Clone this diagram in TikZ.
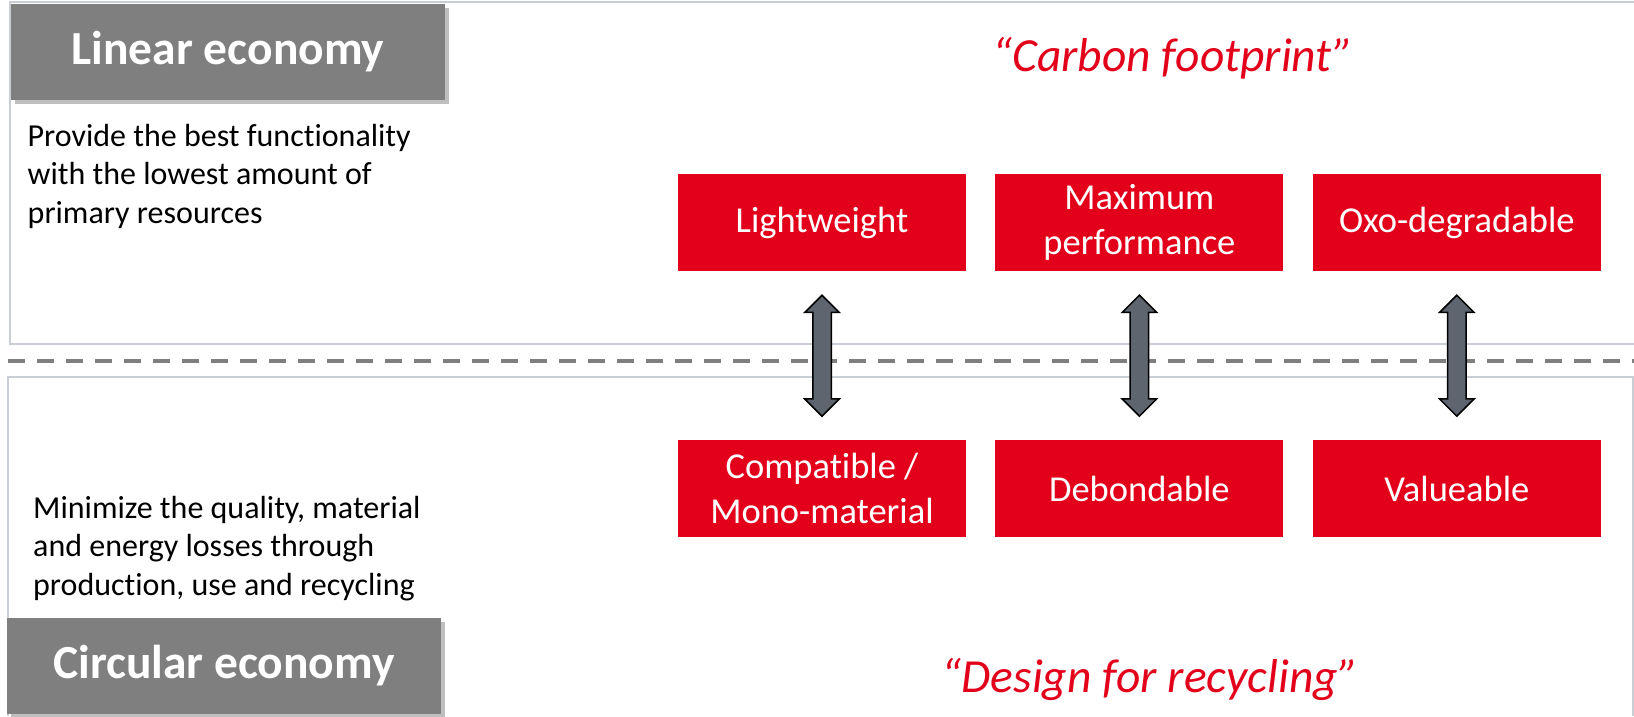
\documentclass[tikz,border=0pt]{standalone}
\usepackage{fontspec}
\setmainfont{Carlito}[Ligatures=NoCommon]
\usetikzlibrary{positioning,shapes.arrows,shadows}
\definecolor{ecored}{RGB}{226,0,26}
\definecolor{headgray}{RGB}{127,127,127}
\definecolor{panelline}{RGB}{201,206,212}
\definecolor{arrowgray}{RGB}{94,101,111}
\tikzset{panel/.style={draw=panelline,line width=2pt},
         split line/.style={draw=headgray,line width=4pt,dash pattern=on 17pt off 12pt},
         head box/.style={rectangle,fill=headgray,text=white,minimum width=434pt,minimum height=96pt,inner sep=0pt,
                          font=\fontsize{47.5}{56}\selectfont\bfseries,
                          drop shadow={shadow xshift=4pt,shadow yshift=-4pt,opacity=.25,fill=black}},
         red box/.style={rectangle,fill=ecored,text=white,minimum width=288pt,minimum height=97pt,inner sep=0pt,
                          align=center,font=\fontsize{36.5}{45}\selectfont},
         goal text/.style={anchor=north west,inner sep=0pt,align=left,font=\fontsize{32}{38.5}\selectfont},
         motto/.style={anchor=base,text=ecored,inner sep=0pt,font=\fontsize{47.5}{56}\selectfont\itshape},
         updown/.style={double arrow,shape border rotate=90,draw=black,line width=1.5pt,fill=arrowgray,
                        minimum width=33pt,minimum height=121pt,double arrow head extend=8pt,inner sep=8.5pt},
}
\begin{document}
\begin{tikzpicture}[x=1pt,y=-1pt]
\useasboundingbox (0,0) rectangle (1634,716);
% frames of the two halves
\draw[panel] (1634,2) -- (10,2) -- (10,344) -- (1634,344);
\draw[panel] (8,716) -- (8,377) -- (1633,377) -- (1633,716);
\draw[split line] (8,361) -- (1634,361);

\node[head box] (linear) at (228,52) {Linear economy};
\node[head box] (circular) at (224,666) {Circular economy};

\node[goal text] (lingoal) at (27.5,124) {Provide the best functionality\\with the lowest amount of\\primary resources};
\node[goal text] (circgoal) at (33,496) {Minimize the quality, material\\and energy losses through\\production, use and recycling};

\node[motto] (carbon) at (1173,71) {“Carbon footprint”};
\node[motto] (design) at (1150,692) {“Design for recycling”};

% requirements
\node[red box] (lw) at (822,222.5) {Lightweight};
\node[red box,right=29pt of lw] (mp) {Maximum\\performance};
\node[red box,right=29pt of mp] (oxo) {Oxo-degradable};
\node[red box,below=169pt of lw] (cm) {Compatible /\\Mono-material};
\node[red box,below=169pt of mp] (db) {Debondable};
\node[red box,below=169pt of oxo] (val) {Valueable};

\foreach \up/\down in {lw/cm,mp/db,oxo/val}
  \path (\up.south) -- (\down.north) node[midway,updown] (\up-\down) {};
\end{tikzpicture}
\end{document}
